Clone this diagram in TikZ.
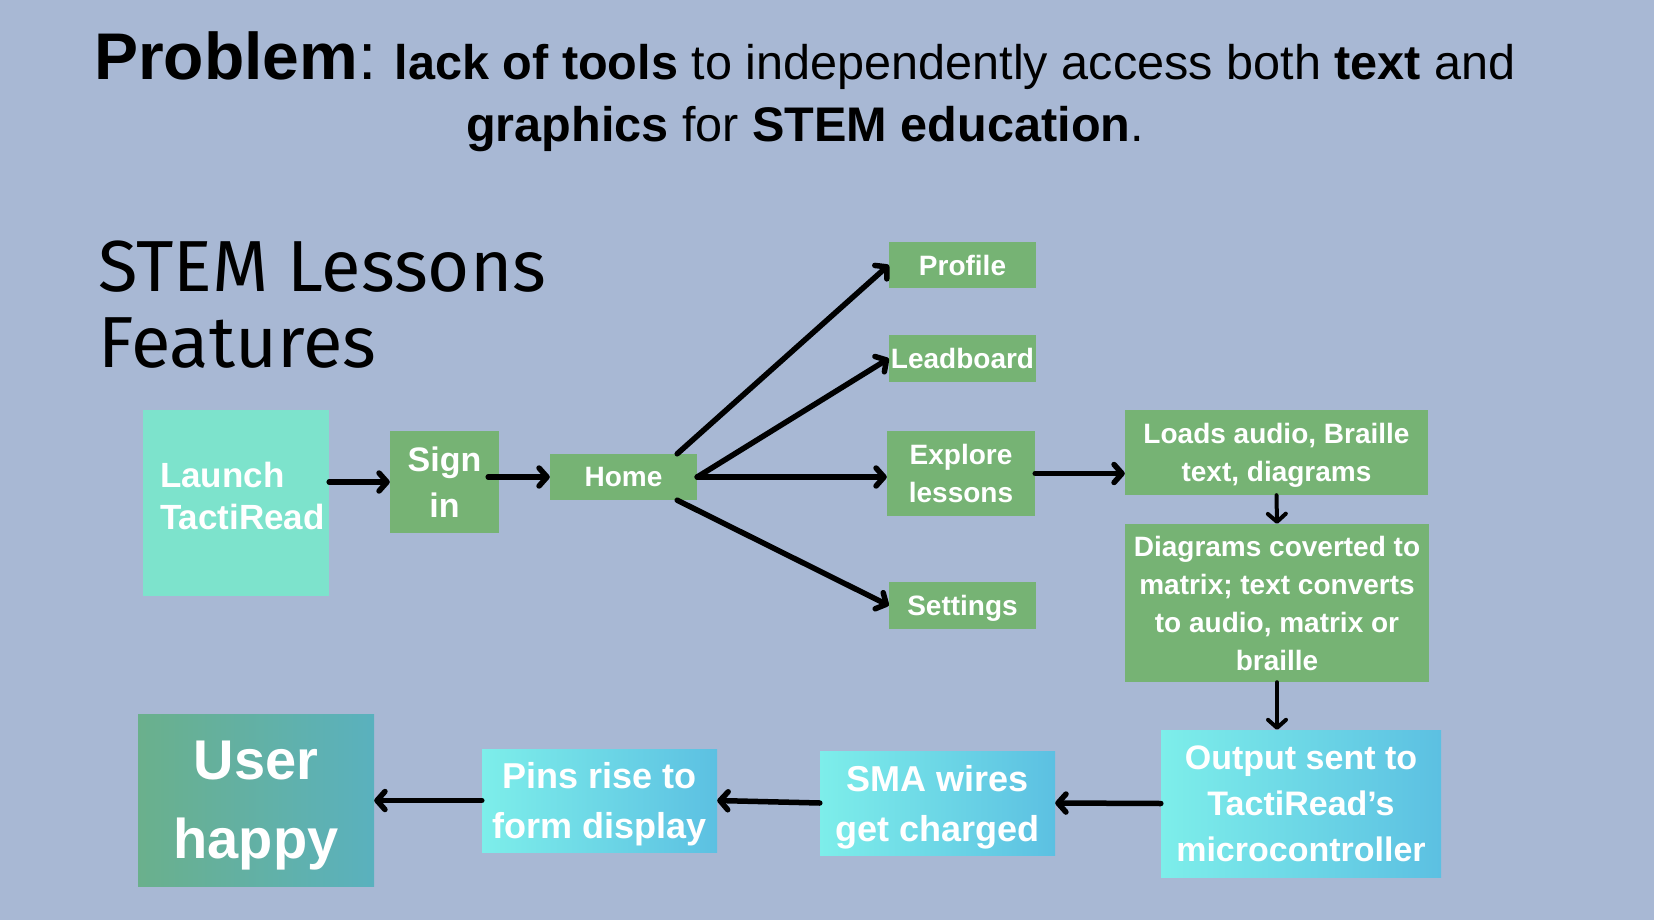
\documentclass[tikz,border=0pt]{standalone}
\usepackage{fontspec}
\setmainfont{Liberation Sans}
\newfontfamily\stemfont{Fira Sans}
\usetikzlibrary{arrows.meta}
\definecolor{bg}{HTML}{A8B8D4}
\definecolor{grn}{HTML}{76B374}
\definecolor{mint}{HTML}{7DE3CC}
\definecolor{cyanL}{HTML}{7DEEEA}
\definecolor{cyanR}{HTML}{5CC0E2}
\definecolor{userL}{HTML}{6AB08C}
\definecolor{userR}{HTML}{5AB1BE}
\begin{document}
\begin{tikzpicture}[x=1pt,y=-1pt,
  box/.style={rectangle, inner sep=0pt, text=white, align=center, text depth=0pt},
  gbox/.style={box, fill=grn, font=\fontsize{28}{38}\selectfont\bfseries},
  cbox/.style={box, left color=cyanL, right color=cyanR, font=\fontsize{36}{50}\selectfont\bfseries},
  ar/.style={line width=5.5pt, line cap=round, -{Straight Barb[length=8pt,width=18pt,line cap=round,line join=round]}}]
\fill[bg] (0,0) rectangle (1654,920);
\useasboundingbox (0,0) rectangle (1654,920);

% title
\node[anchor=base, inner sep=0pt] (title1) at (805,80) {\fontsize{66}{70}\selectfont\textbf{Problem}:\fontsize{48.6}{58}\selectfont{} \textbf{lack of tools} to independently access both \textbf{text} and};
\node[anchor=base, inner sep=0pt] (title2) at (805,142) {\fontsize{48.6}{58}\selectfont\textbf{graphics} for \textbf{STEM education}.};

% subtitle
\node[anchor=base west, inner sep=0pt] (stem1) at (98,291) {\stemfont\fontsize{72.3}{76}\selectfont STEM Lessons};
\node[anchor=base west, inner sep=0pt] (stem2) at (98,367) {\stemfont\fontsize{72.3}{76}\selectfont Features};

% nodes
\node[box, fill=mint, minimum width=186pt, minimum height=186pt, text width=152pt, align=left,
      text depth=57pt, font=\fontsize{35}{42}\selectfont\bfseries] (launch) at (236,503) {Launch\\TactiRead};
\node[gbox, minimum width=109pt, minimum height=102pt, font=\fontsize{34}{46}\selectfont\bfseries] (signin) at (444.5,482) {Sign\\in};
\node[gbox, minimum width=147pt, minimum height=46pt] (home) at (623.5,477) {Home};
\node[gbox, minimum width=147pt, minimum height=46pt] (profile) at (962.5,265) {Profile};
\node[gbox, minimum width=147pt, minimum height=47pt] (lead) at (962.5,358.5) {Leadboard};
\node[gbox, minimum width=148pt, minimum height=85pt] (explore) at (961,473.5) {Explore\\lessons};
\node[gbox, minimum width=147pt, minimum height=47pt] (settings) at (962.5,605.5) {Settings};
\node[gbox, minimum width=303pt, minimum height=85pt] (loads) at (1276.5,452.5) {Loads audio, Braille\\text, diagrams};
\node[gbox, minimum width=304pt, minimum height=158pt] (diag) at (1277,603) {Diagrams coverted to\\matrix; text converts\\to audio, matrix or\\braille};
\node[cbox, minimum width=280pt, minimum height=147pt, font=\fontsize{34}{46}\selectfont\bfseries] (output) at (1301,803.5) {Output sent to\\TactiRead’s\\microcontroller};
\node[cbox, minimum width=235pt, minimum height=104pt] (sma) at (937.5,803) {SMA wires\\get charged};
\node[cbox, minimum width=235pt, minimum height=103pt] (pins) at (599.5,800.5) {Pins rise to\\form display};
\node[box, left color=userL, right color=userR, minimum width=236pt, minimum height=172pt,
      font=\fontsize{56}{79}\selectfont\bfseries] (user) at (256,800) {User\\happy};

% connectors
\draw[ar] (launch.east |- signin.west) -- (signin.west);
\draw[ar] ([xshift=-11pt]signin.east |- home.west) -- (home.west);
\draw[ar] ([xshift=-20pt]home.north east) -- (profile.west);
\draw[ar] (home.east) -- (lead.west);
\draw[ar] (home.east) -- (home.east -| explore.west);
\draw[ar] ([xshift=-20pt]home.south east) -- (settings.west);
\draw[ar] (explore.east) -- (explore.east -| loads.west);
\draw[ar, line width=4pt] (loads.south) -- (diag.north);
\draw[ar, line width=4pt] (diag.south) -- (diag.south |- output.north);
\draw[ar] (output.west) -- (sma.east);
\draw[ar] (sma.west) -- (pins.east);
\draw[ar] (pins.west) -- (pins.west -| user.east);
\end{tikzpicture}
\end{document}
